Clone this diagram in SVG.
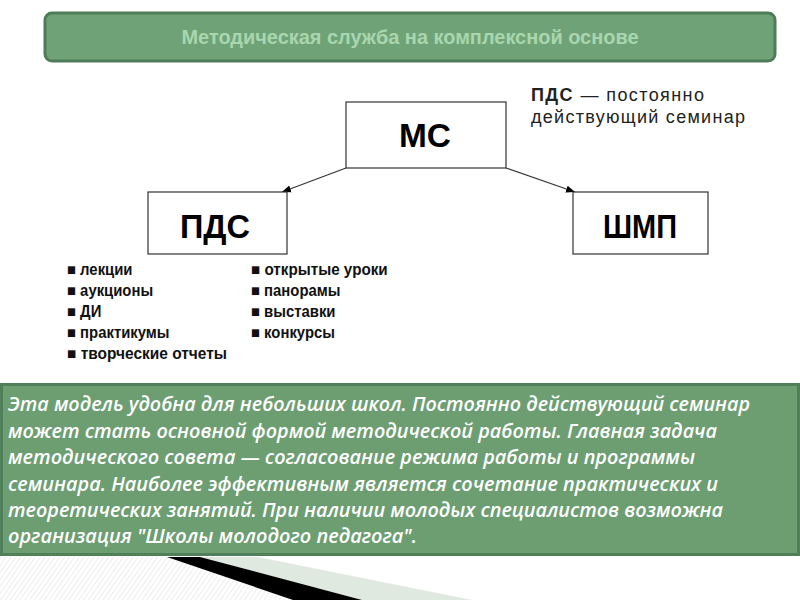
<svg xmlns="http://www.w3.org/2000/svg" width="800" height="600" viewBox="0 0 800 600">
  <defs>
    <style>
      .box { fill: #ffffff; stroke: #333333; stroke-width: 1.2; }
      .big { font-family: "Liberation Sans", Arial, sans-serif; font-weight: bold; font-size: 34px; fill: #000; text-anchor: middle; }
      .list { font-family: "Liberation Sans Narrow", "Liberation Sans", Arial, sans-serif; font-weight: bold; font-size: 16px; fill: #111; }
      .note { font-family: "Liberation Sans", Arial, sans-serif; font-size: 18px; fill: #222; }
      .para { font-family: "Open Sans", "Noto Sans", sans-serif; font-style: italic; font-weight: 600; font-size: 19px; fill: #ffffff; }
      .conn { stroke: #333333; stroke-width: 1.2; fill: none; marker-end: url(#arr); }
    </style>
    <marker id="arr" viewBox="0 0 10 10" refX="10" refY="5" markerWidth="9" markerHeight="9" orient="auto" markerUnits="userSpaceOnUse">
      <path d="M0,1 L10,5 L0,9 z" fill="#000"/>
    </marker>
    <pattern id="hatch" width="4" height="4" patternUnits="userSpaceOnUse" patternTransform="rotate(35)">
      <rect width="4" height="4" fill="#ffffff"/>
      <line x1="0" y1="0" x2="0" y2="4" stroke="#e2e2e2" stroke-width="1.2"/>
    </pattern>
  </defs>
  <rect width="800" height="600" fill="#ffffff"/>

  <g id="title">
    <rect x="45" y="13" width="730" height="48" rx="7" fill="#6fa377" stroke="#4f7c56" stroke-width="3"/>
    <text x="410" y="44" text-anchor="middle" font-family="Liberation Sans, Arial, sans-serif" font-weight="bold" font-size="19.5" fill="#a9d6ae" textLength="457" lengthAdjust="spacingAndGlyphs">Методическая служба на комплексной основе</text>
  </g>

  <g id="legend">
    <text class="note" x="531" y="101" textLength="173" lengthAdjust="spacing"><tspan font-weight="bold">ПДС</tspan> — постоянно</text>
    <text class="note" x="531" y="123" textLength="214" lengthAdjust="spacing">действующий семинар</text>
  </g>

  <g id="connectors">
    <line class="conn" x1="346" y1="168" x2="282" y2="192"/>
    <line class="conn" x1="506" y1="168" x2="575" y2="192"/>
  </g>

  <g id="node-ms">
    <rect class="box" x="346" y="102" width="160" height="66"/>
    <text class="big" x="425" y="147" textLength="52" lengthAdjust="spacingAndGlyphs">МС</text>
  </g>
  <g id="node-pds">
    <rect class="box" x="148" y="192" width="139" height="62"/>
    <text class="big" x="215" y="238" textLength="70" lengthAdjust="spacingAndGlyphs">ПДС</text>
  </g>
  <g id="node-shmp">
    <rect class="box" x="573" y="192" width="135" height="62"/>
    <text class="big" x="640" y="238" textLength="74" lengthAdjust="spacingAndGlyphs">ШМП</text>
  </g>

  <g id="list-left" transform="translate(67,0) scale(0.93,1)">
    <text class="list" x="0" y="275">■ лекции</text>
    <text class="list" x="0" y="296">■ аукционы</text>
    <text class="list" x="0" y="317">■ ДИ</text>
    <text class="list" x="0" y="338">■ практикумы</text>
    <text class="list" x="0" y="359" textLength="172" lengthAdjust="spacingAndGlyphs">■ творческие отчеты</text>
  </g>
  <g id="list-right" transform="translate(251,0) scale(0.93,1)">
    <text class="list" x="0" y="275" textLength="147" lengthAdjust="spacingAndGlyphs">■ открытые уроки</text>
    <text class="list" x="0" y="296">■ панорамы</text>
    <text class="list" x="0" y="317">■ выставки</text>
    <text class="list" x="0" y="338">■ конкурсы</text>
  </g>

  <g id="textbox">
    <rect x="1.5" y="384.5" width="797" height="170" fill="#6c9e72" stroke="#50805a" stroke-width="3"/>
    <text class="para" x="8" y="411" textLength="742" lengthAdjust="spacingAndGlyphs">Эта модель удобна для небольших школ. Постоянно действующий семинар</text>
    <text class="para" x="8" y="437.5" textLength="709" lengthAdjust="spacingAndGlyphs">может стать основной формой методической работы. Главная задача</text>
    <text class="para" x="8" y="464" textLength="687" lengthAdjust="spacingAndGlyphs">методического совета — согласование режима работы и программы</text>
    <text class="para" x="8" y="490.5" textLength="710" lengthAdjust="spacingAndGlyphs">семинара. Наиболее эффективным является сочетание практических и</text>
    <text class="para" x="8" y="517" textLength="715" lengthAdjust="spacingAndGlyphs">теоретических занятий. При наличии молодых специалистов возможна</text>
    <text class="para" x="8" y="543" textLength="409" lengthAdjust="spacingAndGlyphs">организация "Школы молодого педагога".</text>
  </g>

  <g id="decoration">
    <polygon points="0,557 167,557 293,600 0,600" fill="url(#hatch)"/>
    <polygon points="200,557 258,557 472,600 362,600" fill="#e0e9e0"/>
    <polygon points="167,557 200,557 362,600 293,600" fill="#000000"/>
  </g>
</svg>
